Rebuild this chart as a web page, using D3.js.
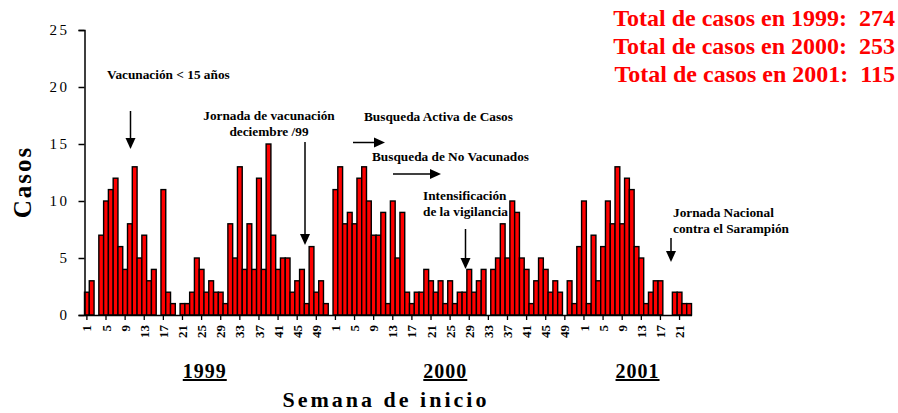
<!DOCTYPE html>
<html>
<head>
<meta charset="utf-8">
<script src="https://cdn.jsdelivr.net/npm/d3@7"></script>
<style>
  body { margin: 0; background: #fff; }
  text { font-family: "Liberation Serif", "Times New Roman", serif; }
</style>
</head>
<body>
<div id="chart"></div>
<script>
// casos semanales por año (semana epidemiológica)
var cases1999 = [2,3,0,7,10,11,12,6,4,8, 13,5,7,3,4,0,11,2,1,0, 1,1,2,5,4,2,3,2,2,1,
                 8,5,13,4,8,4,12,4,15,7, 4,5,5,2,3,4,1,6,2,3,1,0];
var cases2000 = [11,13,8,9,8,12,13,10,7,7, 9,1,10,5,9,2,1,2,2,4, 3,2,3,1,3,1,2,2,4,2,
                 3,4,0,4,5,8,5,10,9,5, 4,1,3,5,4,2,3,2,0,3,1,6];
var cases2001 = [10,1,7,3,6,10,8,13,8,12, 11,6,5,1,2,3,3,0,0,2, 2,1,1];
var years = ["1999", "2000", "2001"];
var totals = [274, 253, 115];
var yTicks = [0, 5, 10, 15, 20, 25];

var width = 898, height = 413;
var margin = {left: 84.5, top: 30, bottom: 98};
var plotRight = 691.5;
// year label shift from the block centre
var yearShift = [-4, -12, 1];

var svg = d3.select("#chart").append("svg")
  .attr("width", width)
  .attr("height", height);

// build one flat list of weeks
var data = [];
[cases1999, cases2000, cases2001].forEach(function(arr, yi) {
  arr.forEach(function(v, i) {
    data.push({key: years[yi] + "-" + (i + 1), year: years[yi], week: i + 1, value: v});
  });
});

var x = d3.scaleBand()
  .domain(data.map(function(d) { return d.key; }))
  .range([margin.left, plotRight])
  .padding(0);

var y = d3.scaleLinear()
  .domain([0, 25])
  .range([height - margin.bottom, margin.top]);

// bars
svg.append("g")
  .selectAll("rect")
  .data(data)
  .enter()
  .append("rect")
  .attr("x", function(d) { return x(d.key); })
  .attr("y", function(d) { return y(d.value); })
  .attr("width", x.bandwidth())
  .attr("height", function(d) { return y(0) - y(d.value); })
  .attr("fill", "#ff0000")
  .attr("stroke", "#000")
  .attr("stroke-width", 1.4)
  .style("display", function(d) { return d.value > 0 ? null : "none"; });

// y axis
var yAxis = svg.append("g")
  .attr("transform", "translate(" + margin.left + ",0)")
  .call(d3.axisLeft(y).tickValues(yTicks).tickSize(6).tickPadding(9));
yAxis.select(".domain").attr("stroke-width", 1.5);
yAxis.selectAll(".tick line").attr("stroke-width", 1.5);
yAxis.selectAll("text")
  .style("font-family", "Liberation Serif")
  .style("font-size", "15px")
  .style("letter-spacing", "2.5px")
  .attr("fill", "#000");

// x axis
var xAxis = svg.append("g")
  .attr("transform", "translate(0," + y(0) + ")")
  .call(d3.axisBottom(x)
    .tickValues(data.filter(function(d) { return (d.week - 1) % 4 === 0; }).map(function(d) { return d.key; }))
    .tickFormat(function(k) { return k.split("-")[1]; })
    .tickSize(5)
    .tickSizeOuter(0));
xAxis.select(".domain").attr("stroke-width", 1.5);
xAxis.selectAll(".tick line").attr("stroke-width", 1.3);
xAxis.selectAll("text")
  .attr("transform", "rotate(-90)")
  .attr("x", -10)
  .attr("y", 0)
  .attr("dy", "0.35em")
  .attr("text-anchor", "end")
  .style("font-family", "Liberation Serif")
  .style("font-size", "13px")
  .style("font-weight", "bold")
  .attr("fill", "#000");

// year labels under each block
years.forEach(function(yr, i) {
  var wk = data.filter(function(d) { return d.year === yr; });
  var first = x(wk[0].key);
  var last = x(wk[wk.length - 1].key) + x.bandwidth();
  svg.append("text")
    .attr("x", (first + last) / 2 + yearShift[i])
    .attr("y", 378)
    .attr("text-anchor", "middle")
    .style("font-size", "20px")
    .style("font-weight", "bold")
    .style("letter-spacing", "1px")
    .style("text-decoration", "underline")
    .text(yr);
});

svg.append("text")
  .attr("x", 386)
  .attr("y", 407)
  .attr("text-anchor", "middle")
  .style("font-size", "22px")
  .style("font-weight", "bold")
  .style("letter-spacing", "3px")
  .text("Semana de inicio");

svg.append("text")
  .attr("transform", "translate(31,182) rotate(-90)")
  .attr("text-anchor", "middle")
  .style("font-size", "25px")
  .style("font-weight", "bold")
  .style("letter-spacing", "2px")
  .text("Casos");

// totals, top right
totals.forEach(function(t, i) {
  svg.append("text")
    .attr("x", 895)
    .attr("y", 26 + i * 28)
    .attr("text-anchor", "end")
    .attr("fill", "#ff0000")
    .style("font-size", "24px")
    .style("font-weight", "bold")
    .style("white-space", "pre")
    .text("Total de casos en " + years[i] + ":  " + t);
});

// annotations
var notes = [
  {lines: ["Vacunación < 15 años"], x: 107, y: 79, anchor: "start"},
  {lines: ["Jornada de vacunación", "deciembre /99"], x: 269, y: 120, anchor: "middle"},
  {lines: ["Busqueda Activa de Casos"], x: 364, y: 121, anchor: "start"},
  {lines: ["Busqueda de No Vacunados"], x: 372, y: 161, anchor: "start"},
  {lines: ["Intensificación", "de la vigilancia"], x: 423, y: 200, anchor: "start"},
  {lines: ["Jornada Nacional", "contra el Sarampión"], x: 673, y: 217, anchor: "start"}
];
notes.forEach(function(n) {
  var t = svg.append("text")
    .attr("x", n.x)
    .attr("y", n.y)
    .attr("text-anchor", n.anchor)
    .style("font-size", "13.3px")
    .style("font-weight", "bold");
  n.lines.forEach(function(l, i) {
    t.append("tspan").attr("x", n.x).attr("dy", i === 0 ? 0 : 16).text(l);
  });
});

// arrows: [x1, y1, x2, y2]
var arrows = [
  [130.5, 111, 130.5, 149],
  [305, 142, 305, 245],
  [353, 142.5, 385, 142.5],
  [393, 174, 441, 174],
  [465.5, 229, 465.5, 269],
  [671, 238, 671, 262]
];
arrows.forEach(function(a) {
  var dx = a[2] - a[0], dy = a[3] - a[1];
  var len = Math.sqrt(dx * dx + dy * dy);
  var ux = dx / len, uy = dy / len;
  var head = 11, half = 5;
  var bx = a[2] - ux * head, by = a[3] - uy * head;
  svg.append("line")
    .attr("x1", a[0]).attr("y1", a[1])
    .attr("x2", bx).attr("y2", by)
    .attr("stroke", "#000")
    .attr("stroke-width", 1.5);
  svg.append("path")
    .attr("d", "M" + a[2] + "," + a[3] +
      "L" + (bx - uy * half) + "," + (by + ux * half) +
      "L" + (bx + uy * half) + "," + (by - ux * half) + "Z")
    .attr("fill", "#000");
});
</script>
</body>
</html>
